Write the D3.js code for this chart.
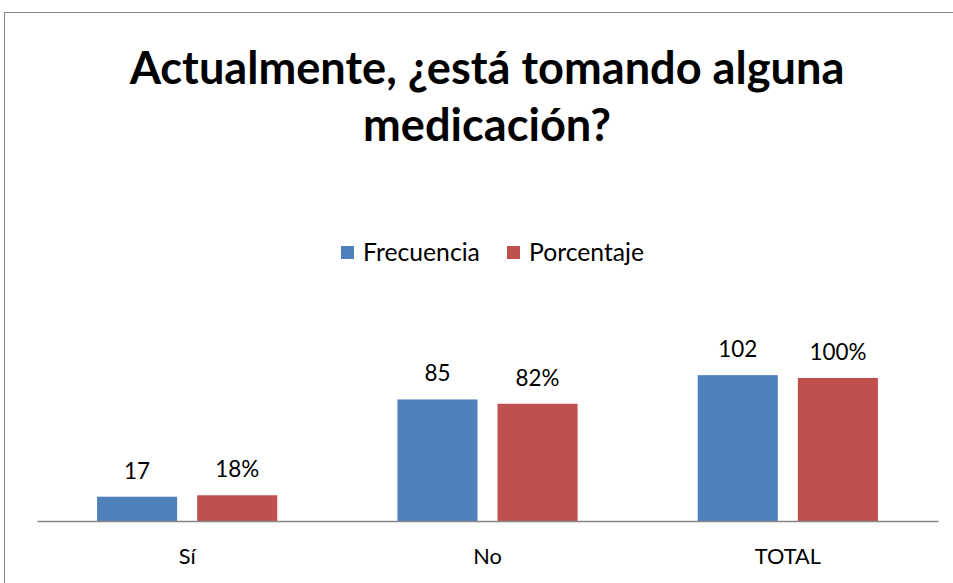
<!DOCTYPE html>
<html><head><meta charset="utf-8">
<script src="https://cdn.jsdelivr.net/npm/d3@7"></script>
<style>body{margin:0;background:#fff}svg{display:block}</style>
</head><body>
<svg id="c" width="953" height="583"></svg>
<script>
const categories = ["Sí", "No", "TOTAL"];
const seriesNames = ["Frecuencia", "Porcentaje"];
const frecuencia = [17, 85, 102];
const porcentaje = [18, 82, 100];
const seriesLabels = [["17", "85", "102"], ["18%", "82%", "100%"]];
const titleLines = ["Actualmente, ¿está tomando alguna", "medicación?"];
const colors = ["#4F81BD", "#C0504D"];

const svg = d3.select("#c");
const FONT = "Lato, 'Open Sans', sans-serif";

function fitSize(text, weight, target) {
  const t = svg.append("text").attr("font-family", FONT).attr("font-weight", weight).attr("font-size", 40).text(text);
  const w = t.node().getComputedTextLength();
  t.remove();
  return 40 * target / w;
}

// border
svg.append("rect").attr("x", 4.5).attr("y", 12.5).attr("width", 1000).attr("height", 1000)
  .attr("fill", "none").attr("stroke", "#878787").attr("stroke-width", 1);

// title
const fsT = fitSize(titleLines[0], "bold", 715);
[84, 141].forEach((yy, i) => {
  svg.append("text").attr("x", 487).attr("y", yy).attr("text-anchor", "middle")
    .attr("font-family", FONT).attr("font-weight", "bold").attr("font-size", fsT).attr("fill", "#000").text(titleLines[i]);
});

// scales
const x0 = d3.scaleBand().domain(categories).range([37, 938]).paddingInner(0).paddingOuter(0);
const x1 = d3.scaleBand().domain(seriesNames).range([0, x0.bandwidth()]).paddingInner(0.2).paddingOuter(0.6);
const y = d3.scaleLinear().domain([0, 120]).range([521, 349.4]);

const fsLabel = fitSize("100%", "normal", 57);
const fsCat = fitSize("TOTAL", "normal", 66);
const fsLeg = fitSize("Frecuencia", "normal", 117);

const data = [frecuencia, porcentaje];
seriesNames.forEach((s, si) => {
  const g = svg.append("g");
  g.selectAll("rect").data(data[si]).join("rect")
    .attr("x", (d, i) => x0(categories[i]) + x1(s))
    .attr("y", d => y(d))
    .attr("width", x1.bandwidth())
    .attr("height", d => y(0) - y(d))
    .attr("fill", colors[si]);
  g.selectAll("text").data(data[si]).join("text")
    .attr("x", (d, i) => x0(categories[i]) + x1(s) + x1.bandwidth() / 2)
    .attr("y", d => y(d) - 18)
    .attr("text-anchor", "middle")
    .attr("font-family", FONT).attr("font-size", fsLabel).attr("fill", "#000")
    .text((d, i) => seriesLabels[si][i]);
});

// axis
const xAxis = d3.axisBottom(x0).tickSize(0).tickPadding(0);
const ax = svg.append("g").attr("transform", `translate(0,${y(0)})`).call(xAxis);
ax.select(".domain").attr("stroke", "#868686").attr("stroke-width", 1.3);
ax.selectAll("text").attr("font-family", FONT).attr("font-size", fsCat).attr("fill", "#000")
  .attr("dy", null).attr("y", 43);

// legend
const leg = svg.append("g");
const legX = [341, 507];
seriesNames.forEach((s, i) => {
  leg.append("rect").attr("x", legX[i]).attr("y", 246).attr("width", 13).attr("height", 13).attr("fill", colors[i]);
  leg.append("text").attr("x", legX[i] + 22).attr("y", 261).attr("font-family", FONT).attr("font-size", fsLeg).attr("fill", "#000").text(s);
});
</script>
</body></html>
